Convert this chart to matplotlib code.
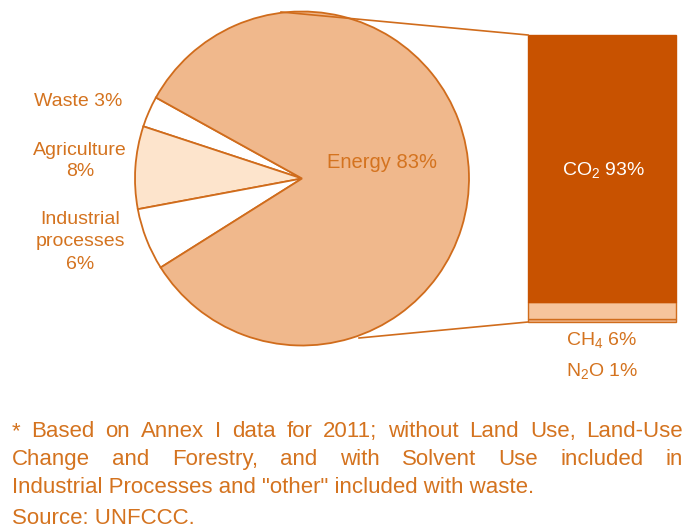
import matplotlib
matplotlib.use("Agg")
import matplotlib.pyplot as plt

# ---- data ----
sectors = ["Energy", "Waste", "Agriculture", "Industrial\nprocesses"]
sector_values = [83, 3, 8, 6]
sector_labels = ["Energy 83%", "Waste 3%", "Agriculture\n8%", "Industrial\nprocesses\n6%"]
gases = ["N2O", "CH4", "CO2"]
gas_values = [1, 6, 93]
gas_labels = ["N$_2$O 1%", "CH$_4$ 6%", "CO$_2$ 93%"]
footnote_lines = [
    "* Based on Annex I data for 2011; without Land Use, Land-Use",
    "Change and Forestry, and with Solvent Use included in",
    "Industrial Processes and \"other\" included with waste.",
]
source_text = "Source: UNFCCC."

plt.rcParams['font.family'] = ['Liberation Sans', 'DejaVu Sans']
plt.rcParams['mathtext.default'] = 'regular'

ORANGE_TXT = "#d4731f"
EDGE = "#d06c1c"
ENERGY = "#f0b88c"
AGRI = "#fde4cc"
CO2C = "#c85200"
CH4C = "#f6c49c"
N2OC = "#efb486"

W, H = 690, 530
fig = plt.figure(figsize=(W / 100, H / 100), dpi=100)
ax = fig.add_axes([0, 0, 1, 1])

def Y(y):
    return H - y

# ---- pie ----
cx, cy, r = 302, Y(178.5), 167
order_vals = [sector_values[1], sector_values[2], sector_values[3], sector_values[0]]
colors = ["white", AGRI, "white", ENERGY]
ax.pie(order_vals, colors=colors, startangle=151, counterclock=True,
       center=(cx, cy), radius=r, frame=True,
       wedgeprops=dict(edgecolor=EDGE, linewidth=1.3))
ax.set_xlim(0, W)
ax.set_ylim(0, H)
ax.set_aspect('equal')
ax.axis('off')

# ---- stacked bar ----
bar_left, bar_right = 528, 676
bar_bottom, bar_top = Y(322), Y(35)
scale = (bar_top - bar_bottom) / sum(gas_values)
bottom = bar_bottom
bar_cols = [N2OC, CH4C, CO2C]
for v, c in zip(gas_values, bar_cols):
    ax.bar((bar_left + bar_right) / 2, v * scale, width=bar_right - bar_left,
           bottom=bottom, color=c, edgecolor=EDGE if c != CO2C else CO2C,
           linewidth=1.0)
    bottom += v * scale

# ---- connecting lines ----
ax.plot([281, bar_left], [Y(12), bar_top], color=EDGE, lw=1.2)
ax.plot([359, bar_left], [Y(338), bar_bottom], color=EDGE, lw=1.2)

# ---- labels ----
fs = 14
ax.text(382, Y(162), sector_labels[0], color=ORANGE_TXT, fontsize=14.5,
        ha='center', va='center')
ax.text(78, Y(101), sector_labels[1], color=ORANGE_TXT, fontsize=fs,
        ha='center', va='center')
ax.text(80, Y(161), sector_labels[2], color=ORANGE_TXT, fontsize=fs,
        ha='center', va='center', linespacing=1.35)
ax.text(80, Y(242), sector_labels[3], color=ORANGE_TXT, fontsize=fs,
        ha='center', va='center', linespacing=1.4)
ax.text(604, Y(170), gas_labels[2], color="white", fontsize=fs,
        ha='center', va='center')
ax.text(602, Y(340), gas_labels[1], color=ORANGE_TXT, fontsize=fs,
        ha='center', va='center')
ax.text(602, Y(371), gas_labels[0], color=ORANGE_TXT, fontsize=fs,
        ha='center', va='center')

# ---- footnote (justified) ----
fn_fs = 16
left, right = 12, 683
baselines = [437, 465, 493]
fig.canvas.draw()
renderer = fig.canvas.get_renderer()
inv = ax.transData.inverted()

def width_of(t):
    bb = t.get_window_extent(renderer=renderer)
    (x0, _), (x1, _) = inv.transform([[bb.x0, 0], [bb.x1, 0]])
    return x1 - x0

for i, (line, y) in enumerate(zip(footnote_lines, baselines)):
    if i < 2:
        words = line.split(" ")
        texts = [ax.text(0, Y(y), w, color=ORANGE_TXT, fontsize=fn_fs,
                         ha='left', va='baseline') for w in words]
        widths = [width_of(t) for t in texts]
        gap = (right - left - sum(widths)) / (len(words) - 1)
        x = left
        for t, w in zip(texts, widths):
            t.set_x(x)
            x += w + gap
    else:
        ax.text(left, Y(y), line, color=ORANGE_TXT, fontsize=fn_fs,
                ha='left', va='baseline')
ax.text(left, Y(524), source_text, color=ORANGE_TXT, fontsize=fn_fs,
        ha='left', va='baseline')

fig.savefig("out.png", dpi=100)
